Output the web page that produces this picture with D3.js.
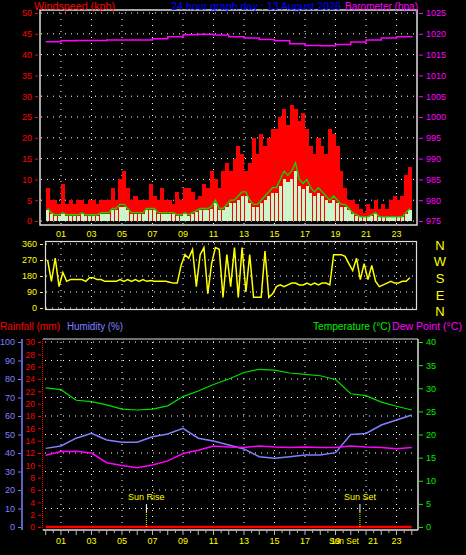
<!DOCTYPE html>
<html><head><meta charset="utf-8">
<script src="https://cdn.jsdelivr.net/npm/d3@7"></script>
<style>body{margin:0;background:#000}svg{display:block}text{font-family:"Liberation Sans",Arial,sans-serif}</style>
</head><body>
<script>
const hourLabels = ["01","03","05","07","09","11","13","15","17","19","21","23"];
const hourTicks = [1,3,5,7,9,11,13,15,17,19,21,23];
// wind, 15-minute steps (kph)
const windGust = [8,5,5,4, 9,4,5,4, 5,5,4,5, 5,4,5,5, 5,8,5,10, 12,8,5,6, 5,5,5,9, 6,5,8,5, 5,4,7,5, 8,8,7,5, 6,9,8,12, 10,8,12,14,
  12,15,18,16, 12,14,20,16, 21,18,20,22, 22,25,27,23, 28,27,24,26, 22,18,16,20, 18,16,22,21, 18,12,8,5, 5,4,3,2, 4,3,5,3, 4,3,5,6, 5,6,11,13];
const windAvg = [3,2,1.5,1.5, 2,1.5,1.5,1.5, 1.5,2,1.5,1.5, 1.5,1.5,2,2, 2,3,3,4, 4,3,2,2, 2,2,3,3, 3,2,2,2, 2,2,1.5,1.5, 2,1.5,2,2.5, 3,3,3,3.5, 5,3,3,4,
  5,5,6,7, 7,5,4,4, 5,6,7,8, 8,10,12,11, 12,14,10,9, 10,8,7,8, 7,6,5,6, 5,4,4,3, 2,1.5,1,1, 1,1.5,2,1, 1,1,1,1, 1,1,2,3];
const windDir = [270,150,280,120, 200,150,160,160, 160,160,150,170, 170,160,160,150, 150,150,150,160, 150,160,150,160, 150,160,150,155, 150,150,150,150,
  145,140,140,240, 300,280,330,120, 300,340,80,250, 340,330,60,300, 120,340,60,340, 90,300,60,60, 60,320,60,80, 120,130,120,130, 140,140,130,130,
  140,130,140,130, 140,140,130,300, 300,300,290,250, 210,280,160,250, 160,240,150,120, 130,140,150,140, 140,150,150,170];
// hourly values, hours 0..24
const barometer = [1018.1,1018.3,1018.4,1018.4,1018.5,1018.5,1018.5,1018.8,1019.3,1019.8,1019.9,1019.7,1019.3,1019.0,1018.6,1018.3,1017.6,1017.2,1017.1,1017.4,1018.0,1018.5,1019.0,1019.3,1019.5];
const temperature = [30.1,29.7,27.4,27.1,26.4,25.5,25.3,25.5,26.2,28.2,29.4,30.8,32.0,33.4,34.1,33.9,33.3,33.0,32.7,31.9,28.8,28.4,27.0,26.1,25.3];
const humidity = [42.5,43.8,48.0,50.6,47.0,45.8,45.8,48.8,50.3,53.3,48.0,46.5,44.3,42.2,38.0,37.1,38.0,38.9,38.9,40.2,50.0,50.6,55.1,57.8,60.5];
const dewPoint = [15.5,16.3,16.4,16.0,13.9,13.3,12.8,13.4,14.3,15.9,16.6,17.5,17.3,17.2,17.5,17.3,17.2,17.3,17.2,17.2,17.5,17.3,17.2,16.9,17.2];
const rainfall = [0,0,0,0,0,0,0,0,0,0,0,0,0,0,0,0,0,0,0,0,0,0,0,0,0];
const sunRise = 6.6, sunSet = 20.6;

const W=466,H=555;
const svg=d3.select("body").append("svg").attr("width",W).attr("height",H);
svg.append("rect").attr("width",W).attr("height",H).attr("fill","#000");
const x=d3.scaleLinear().domain([0,24]).range([45.7,411.8]);
const q=i=>i/4;
const dot="1,5";
function txt(xx,yy,t,c,anchor,size,len){const e=svg.append("text").attr("x",xx).attr("y",yy).text(t).attr("fill",c).attr("text-anchor",anchor||"start").attr("font-size",size||10);
  if(len)e.attr("textLength",len).attr("lengthAdjust","spacingAndGlyphs");return e;}
const fmt=d3.format("d");

// ---------- top panel ----------
const yW=d3.scaleLinear().domain([0,50]).range([221,13]);
const yB=d3.scaleLinear().domain([975,1025]).range([221,13]);
const g1=svg.append("g");
d3.range(0,51,5).forEach(v=>g1.append("line").attr("x1",41).attr("x2",416).attr("y1",yW(v)).attr("y2",yW(v)).attr("stroke","#fff").attr("stroke-dasharray",dot));
hourTicks.forEach(h=>g1.append("line").attr("x1",x(h)).attr("x2",x(h)).attr("y1",13).attr("y2",224).attr("stroke","#fff").attr("stroke-dasharray",dot));
const bw=(x(0.25)-x(0))+0.3;
g1.selectAll(".g").data(windGust).join("rect").attr("x",(d,i)=>x(q(i))).attr("width",bw).attr("y",d=>yW(d)).attr("height",d=>yW(0)-yW(d)).attr("fill","#ff0000").attr("shape-rendering","crispEdges");
g1.selectAll(".a").data(windAvg).join("rect").attr("x",(d,i)=>x(q(i))+0.5).attr("width",bw-1).attr("y",d=>yW(d*0.85)).attr("height",d=>yW(0)-yW(d*0.85)).attr("fill","#ccf5cc").attr("shape-rendering","crispEdges");
g1.append("path").datum(windAvg).attr("fill","none").attr("stroke","#00e000").attr("stroke-width",1.3)
 .attr("d",d3.line().x((d,i)=>x(q(i)+0.125)).y(d=>yW(d)));
g1.append("path").datum(barometer).attr("fill","none").attr("stroke","#ff00ff").attr("stroke-width",1.5)
 .attr("d",d3.line().x((d,i)=>x(i)).y(d=>yB(d)).curve(d3.curveStepAfter));
g1.append("rect").attr("x",40).attr("y",10).attr("width",377).attr("height",215).attr("fill","none").attr("stroke","#ddd").attr("stroke-width",1.5);
const axL=svg.append("g").attr("transform","translate(38,0)").call(d3.axisLeft(yW).tickValues(d3.range(0,51,5)).tickSize(3).tickSizeOuter(0));
axL.select(".domain").remove();axL.selectAll("line").attr("stroke","#f00");axL.selectAll("text").attr("fill","#f00").attr("font-size",9).attr("font-family","Liberation Sans");
const axR=svg.append("g").attr("transform","translate(419,0)").call(d3.axisRight(yB).tickValues(d3.range(975,1026,5)).tickFormat(fmt).tickSize(4).tickSizeOuter(0));
axR.select(".domain").remove();axR.selectAll("line").attr("stroke","#f0f");axR.selectAll("text").attr("fill","#f0f").attr("font-size",9).attr("font-family","Liberation Sans");
txt(34,10,"Windspeed (kph)","#f00","start",10,81);
txt(171,10,"24 hour graph day : 13 August 2026","#0000ff","start",10,170);
txt(345,10,"Barometer (hpa)","#f0f","start",10,73);

// ---------- wind direction ----------
const yD=d3.scaleLinear().domain([0,360]).range([308,244]);
const g2=svg.append("g");
[0,90,180,270,360].forEach(v=>g2.append("line").attr("x1",46).attr("x2",416).attr("y1",yD(v)).attr("y2",yD(v)).attr("stroke","#fff").attr("stroke-dasharray",dot));
hourTicks.forEach(h=>g2.append("line").attr("x1",x(h)).attr("x2",x(h)).attr("y1",242).attr("y2",309).attr("stroke","#fff").attr("stroke-dasharray",dot));
g2.append("path").datum(windDir).attr("fill","none").attr("stroke","#ffff00").attr("stroke-width",1.5)
 .attr("d",d3.line().x((d,i)=>x(q(i)+0.125)).y(d=>yD(d)));
g2.append("rect").attr("x",45.5).attr("y",241.5).attr("width",371).attr("height",68).attr("fill","none").attr("stroke","#ddd").attr("stroke-width",1.2);
const axD=svg.append("g").attr("transform","translate(43,0)").call(d3.axisLeft(yD).tickValues([0,90,180,270,360]).tickSize(3).tickSizeOuter(0));
axD.select(".domain").remove();axD.selectAll("line").attr("stroke","#ff0");axD.selectAll("text").attr("fill","#ff0").attr("font-size",9).attr("font-family","Liberation Sans");
hourTicks.forEach((h,i)=>txt(x(h),237,hourLabels[i],"#ff0","middle",9));
["N","W","S","E","N"].forEach((l,i)=>txt(440,[250,266,283,300,316][i],l,"#ff0","middle",13));

// ---------- bottom panel ----------
const yH=d3.scaleLinear().domain([0,100]).range([527,342]);
const yR=d3.scaleLinear().domain([0,30]).range([527,342]);
const yT=d3.scaleLinear().domain([0,40]).range([527,342]);
const g3=svg.append("g");
d3.range(10,101,10).forEach(v=>g3.append("line").attr("x1",45).attr("x2",416).attr("y1",yH(v)).attr("y2",yH(v)).attr("stroke","#fff").attr("stroke-dasharray",dot));
hourTicks.forEach(h=>g3.append("line").attr("x1",x(h)).attr("x2",x(h)).attr("y1",342).attr("y2",527).attr("stroke","#fff").attr("stroke-dasharray",dot));
const ln=(data,yy)=>d3.line().x((d,i)=>x(i)).y(d=>yy(d))(data);
g3.append("path").attr("d",ln(humidity,yH)).attr("fill","none").attr("stroke","#8080ff").attr("stroke-width",1.5);
g3.append("path").attr("d",ln(dewPoint,yT)).attr("fill","none").attr("stroke","#ff00ff").attr("stroke-width",1.5);
g3.append("path").attr("d",ln(temperature,yT)).attr("fill","none").attr("stroke","#00e000").attr("stroke-width",1.2);
g3.append("path").attr("d",ln(rainfall,yR)).attr("fill","none").attr("stroke","#ff0000").attr("stroke-width",2.5);
[[sunRise,"Sun Rise"],[sunSet,"Sun Set"]].forEach(([h,l])=>{
  g3.append("line").attr("x1",x(h)).attr("x2",x(h)).attr("y1",504).attr("y2",512).attr("stroke","#fff");
  g3.append("line").attr("x1",x(h)).attr("x2",x(h)).attr("y1",512).attr("y2",527).attr("stroke","#ff0").attr("stroke-dasharray","1,1");
  txt(x(h),500,l,"#ff0","middle",9);
});
g3.append("line").attr("x1",43).attr("x2",418).attr("y1",339).attr("y2",339).attr("stroke","#ddd").attr("stroke-width",1.2);
g3.append("line").attr("x1",43).attr("x2",418).attr("y1",530).attr("y2",530).attr("stroke","#ddd").attr("stroke-width",1.5);
g3.append("line").attr("x1",418).attr("x2",418).attr("y1",339).attr("y2",530).attr("stroke","#ddd").attr("stroke-width",1.5);
g3.append("line").attr("x1",42.5).attr("x2",42.5).attr("y1",339).attr("y2",530).attr("stroke","#f00").attr("stroke-dasharray","1,1");
g3.append("line").attr("x1",22).attr("x2",22).attr("y1",339).attr("y2",530).attr("stroke","#8080ff").attr("stroke-width",1.5);
d3.range(0,24.01,0.5).forEach(h=>g3.append("line").attr("x1",x(h)).attr("x2",x(h)).attr("y1",530).attr("y2",Number.isInteger(h)?535:533).attr("stroke","#bbb"));
const axH=svg.append("g").attr("transform","translate(21,0)").call(d3.axisLeft(yH).tickValues(d3.range(0,101,10)).tickSize(3).tickSizeOuter(0));
axH.select(".domain").remove();axH.selectAll("line").attr("stroke","#8080ff");axH.selectAll("text").attr("fill","#8080ff").attr("font-size",9).attr("font-family","Liberation Sans");
const axRn=svg.append("g").attr("transform","translate(41,0)").call(d3.axisLeft(yR).tickValues(d3.range(0,31,2)).tickSize(3).tickSizeOuter(0));
axRn.select(".domain").remove();axRn.selectAll("line").attr("stroke","#f00");axRn.selectAll("text").attr("fill","#f00").attr("font-size",8.5).attr("font-family","Liberation Sans");
const axT=svg.append("g").attr("transform","translate(419,0)").call(d3.axisRight(yT).tickValues(d3.range(0,41,5)).tickSize(4).tickSizeOuter(0));
axT.select(".domain").remove();axT.selectAll("line").attr("stroke","#0e0");axT.selectAll("text").attr("fill","#0e0").attr("font-size",9).attr("font-family","Liberation Sans");
hourTicks.forEach((h,i)=>{ if(h!==21) txt(x(h),544,hourLabels[i],"#ff0","middle",9); });
txt(x(21)+2,544,"21","#ff0","start",9);
txt(x(sunSet)-1,544,"Sun Set","#ff0","end",9,30);
txt(0,330,"Rainfall (mm)","#f00","start",10,60);
txt(67,330,"Humidity (%)","#8080ff","start",10,56);
txt(313,330,"Temperature (°C)","#0e0","start",10,78);
txt(392,330,"Dew Point (°C)","#f0f","start",10,70);
</script>
</body></html>
